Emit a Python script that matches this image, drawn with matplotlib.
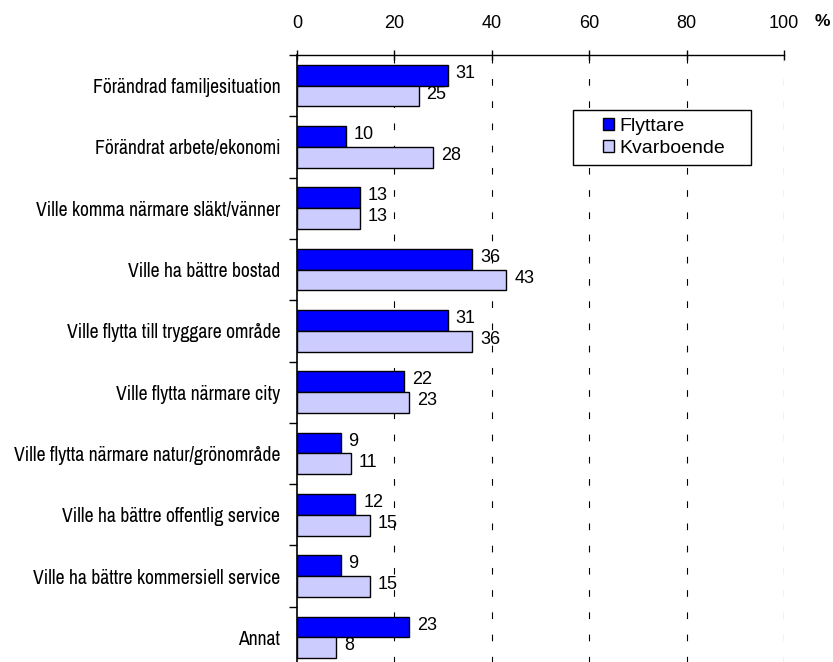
import matplotlib
matplotlib.use("Agg")
import matplotlib.pyplot as plt
from matplotlib.patches import Rectangle
from matplotlib import font_manager
import numpy as np

categories = [
    "Förändrad familjesituation",
    "Förändrat arbete/ekonomi",
    "Ville komma närmare släkt/vänner",
    "Ville ha bättre bostad",
    "Ville flytta till tryggare område",
    "Ville flytta närmare city",
    "Ville flytta närmare natur/grönområde",
    "Ville ha bättre offentlig service",
    "Ville ha bättre kommersiell service",
    "Annat",
]
flyttare = [31, 10, 13, 36, 31, 22, 9, 12, 9, 23]
kvarboende = [25, 28, 13, 43, 36, 23, 11, 15, 15, 8]
series_names = ["Flyttare", "Kvarboende"]
x_ticks = [0, 20, 40, 60, 80, 100]

plt.rcParams['font.family'] = ['Liberation Sans', 'DejaVu Sans']

# pick a narrow font for category labels if one is installed
label_font = dict(family=['Liberation Sans', 'DejaVu Sans'])
names = {f.name: f for f in font_manager.fontManager.ttflist}
narrow = [n for n in names if 'Narrow' in n]
cond = [f for f in font_manager.fontManager.ttflist
        if f.name == 'DejaVu Sans' and f.stretch in ('condensed', 'semi-condensed', 600, 500) or 'Condensed' in f.fname and 'DejaVuSans' in f.fname]
if narrow:
    label_font = dict(family=[narrow[0], 'DejaVu Sans'])
elif cond:
    label_font = dict(fname=cond[0].fname)

fig = plt.figure(figsize=(8.33, 6.62), dpi=100)
ax_h = 613 / 662
ax = fig.add_axes([297/833, 1 - 55/662 - ax_h, 487/833, ax_h])

n = len(categories)
y = np.arange(n)
h = 0.34
c1 = "#0000FF"
c2 = "#CCCCFF"
b1 = ax.barh(y - h/2, flyttare, height=h, color=c1, edgecolor="black", linewidth=1.0, label=series_names[0], zorder=3)
b2 = ax.barh(y + h/2, kvarboende, height=h, color=c2, edgecolor="black", linewidth=1.0, label=series_names[1], zorder=3)

num_fs = 13
for yi, v in zip(y, flyttare):
    ax.text(v + 1.6, yi - h/2 - 0.03, str(v), va="center", ha="left", fontsize=num_fs, zorder=4)
for yi, v in zip(y, kvarboende):
    ax.text(v + 1.6, yi + h/2 - 0.03, str(v), va="center", ha="left", fontsize=num_fs, zorder=4)

ax.set_xlim(0, 100)
ax.set_ylim(n - 0.5, -0.5)

ax.xaxis.set_ticks_position("top")
ax.set_xticks(x_ticks)
ax.set_xticklabels([str(t) for t in x_ticks], fontsize=num_fs)
ax.tick_params(axis="x", direction="inout", length=7, width=1, pad=13, top=True, bottom=False)

ax.set_yticks(y)
if 'fname' in label_font:
    fp = font_manager.FontProperties(fname=label_font['fname'], size=12)
else:
    fp = font_manager.FontProperties(family=label_font['family'], size=12)
ax.set_yticklabels(categories, fontproperties=fp)
ax.set_yticks(np.arange(-0.5, n, 1.0), minor=True)
ax.tick_params(axis="y", which="major", length=0, pad=12)
ax.tick_params(axis="y", which="minor", direction="out", length=6, width=1)

# scale label font so the widest label spans like the reference (~268 px)
fig.canvas.draw()
r = fig.canvas.get_renderer()
wmax = max(t.get_window_extent(r).width for t in ax.get_yticklabels())
new_size = min(15, 12 * 268.0 / wmax)
for t in ax.get_yticklabels():
    t.set_fontsize(new_size)

for s in ["right", "bottom"]:
    ax.spines[s].set_visible(False)
ax.spines["left"].set_linewidth(1.2)
ax.spines["top"].set_linewidth(1.0)

for xv in x_ticks[1:]:
    ax.axvline(xv, color="black", linewidth=0.8, linestyle=(0, (6, 14)), zorder=1)

# legend
ax.add_patch(Rectangle((0.5667, 0.8206), 0.3655, 0.0897, transform=ax.transAxes,
                       facecolor="white", edgecolor="black", linewidth=1.0, zorder=5))
leg = ax.legend(handles=[b1, b2], loc="upper left", bbox_to_anchor=(0.620, 0.904),
                frameon=False, fontsize=14, handlelength=0.57, handleheight=0.57,
                handletextpad=0.3, labelspacing=0.26, borderaxespad=0, borderpad=0.2)
leg.set_zorder(6)

fig.text(822/833, 1 - 22/662, "%", fontsize=12.5, fontweight="bold", ha="center", va="center")

fig.savefig("out.png", dpi=100)
